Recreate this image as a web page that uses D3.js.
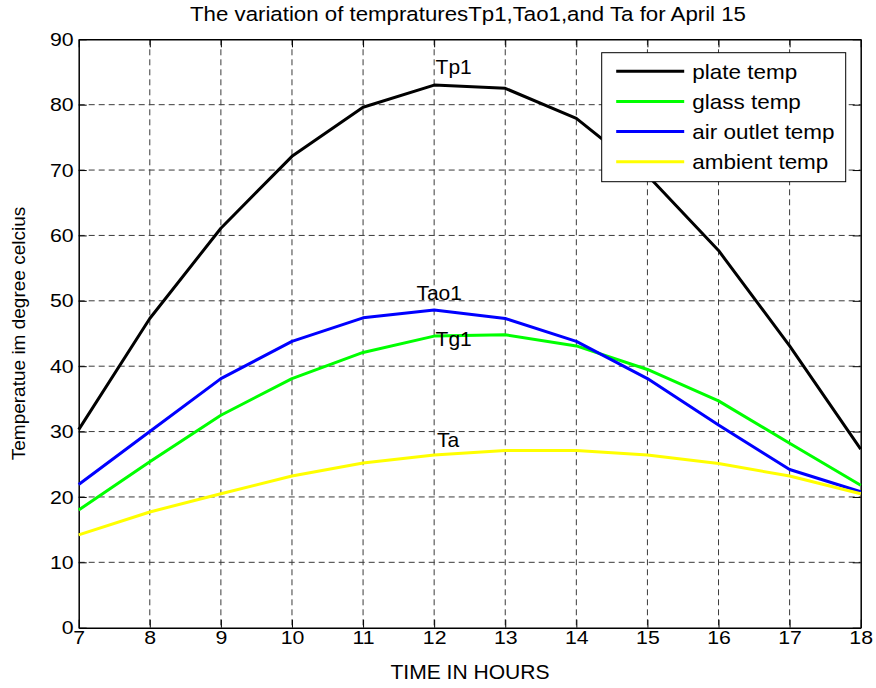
<!DOCTYPE html>
<html>
<head>
<meta charset="utf-8">
<script src="https://cdn.jsdelivr.net/npm/d3@7"></script>
<style>
  html, body { margin: 0; padding: 0; background: #fff; }
  svg { display: block; }
  text { font-family: "Liberation Sans", Arial, sans-serif; fill: #000; }
</style>
</head>
<body>
<svg id="chart" width="876" height="688"></svg>
<script>
// Hourly temperatures (deg C) on April 15
const hours = [7, 8, 9, 10, 11, 12, 13, 14, 15, 16, 17, 18];
const plateTemp   = [30.3, 47.3, 61.1, 72.1, 79.6, 83.0, 82.5, 77.9, 69.2, 57.7, 43.1, 27.3];
const glassTemp   = [18.0, 25.4, 32.5, 38.1, 42.1, 44.6, 44.8, 43.1, 39.5, 34.7, 28.2, 21.8];
const airOutTemp  = [21.9, 30.0, 38.1, 43.8, 47.4, 48.6, 47.3, 43.8, 38.1, 31.0, 24.2, 20.8];
const ambientTemp = [14.2, 17.7, 20.5, 23.2, 25.2, 26.4, 27.1, 27.1, 26.4, 25.1, 23.2, 20.5];

const seriesNames  = ["plate temp", "glass temp", "air outlet temp", "ambient temp"];
const seriesColors = ["#000000", "#00ff00", "#0000ff", "#ffff00"];
const seriesValues = [plateTemp, glassTemp, airOutTemp, ambientTemp];

const xTicks = [7, 8, 9, 10, 11, 12, 13, 14, 15, 16, 17, 18];
const yTicks = [0, 10, 20, 30, 40, 50, 60, 70, 80, 90];

// In-plot curve labels: text, hour, temperature (baseline position)
const noteText = ["Tp1", "Tao1", "Tg1", "Ta"];
const noteHour = [12.02, 11.75, 12.02, 12.04];
const noteTemp = [84.7, 50.2, 43.1, 27.7];

const titleText = "The variation of tempraturesTp1,Tao1,and Ta for April 15";
const xLabel = "TIME IN HOURS";
const yLabel = "Temperatue im degree celcius";

const svg = d3.select("#chart");
const plotLeft = 78.7, plotRight = 860.7, plotTop = 39.3, plotBottom = 627.7;

const x = d3.scaleLinear().domain([7, 18]).range([plotLeft, plotRight]);
const y = d3.scaleLinear().domain([0, 90]).range([plotBottom, plotTop]);

// widen glyphs horizontally (the figure's lettering runs a little wide)
function widen(sel, f) {
  sel.each(function () {
    const w = this.getComputedTextLength();
    d3.select(this).attr("textLength", w * f).attr("lengthAdjust", "spacingAndGlyphs");
  });
}

// dashed grid
const grid = svg.append("g").attr("stroke", "#3a3a3a").attr("stroke-width", 1)
  .attr("stroke-dasharray", "6,4").attr("fill", "none");
grid.selectAll("line.v").data(xTicks.slice(1, -1)).join("line").attr("class", "v")
  .attr("x1", d => x(d)).attr("x2", d => x(d)).attr("y1", plotTop).attr("y2", plotBottom);
grid.selectAll("line.h").data(yTicks.slice(1, -1)).join("line").attr("class", "h")
  .attr("y1", d => y(d)).attr("y2", d => y(d)).attr("x1", plotLeft).attr("x2", plotRight);

// axes with inward ticks on all four sides
function styleAxis(g) {
  g.attr("font-family", null).attr("font-size", null);
  g.select(".domain").attr("stroke", "#000").attr("stroke-width", 1.5);
  g.selectAll(".tick line").attr("stroke", "#000").attr("stroke-width", 1);
  g.selectAll(".tick text").style("font-size", "19px");
}
const xAxisG = svg.append("g").attr("transform", `translate(0,${plotBottom})`)
  .call(d3.axisBottom(x).tickValues(xTicks).tickFormat(d3.format("d")).tickSize(-8).tickPadding(3).tickSizeOuter(0))
  .call(styleAxis);
const yAxisG = svg.append("g").attr("transform", `translate(${plotLeft},0)`)
  .call(d3.axisLeft(y).tickValues(yTicks).tickFormat(d3.format("d")).tickSize(-8).tickPadding(5).tickSizeOuter(0))
  .call(styleAxis);
svg.append("g").attr("transform", `translate(0,${plotTop})`)
  .call(d3.axisTop(x).tickValues(xTicks).tickFormat("").tickSize(-8).tickSizeOuter(0))
  .call(styleAxis);
svg.append("g").attr("transform", `translate(${plotRight},0)`)
  .call(d3.axisRight(y).tickValues(yTicks).tickFormat("").tickSize(-8).tickSizeOuter(0))
  .call(styleAxis);
widen(xAxisG.selectAll(".tick text"), 1.12);
widen(yAxisG.selectAll(".tick text"), 1.12);

// series lines
const line = d3.line().x((d, i) => x(hours[i])).y(d => y(d));
svg.append("g").selectAll("path").data(seriesValues).join("path")
  .attr("d", d => line(d))
  .attr("fill", "none")
  .attr("stroke", (d, i) => seriesColors[i])
  .attr("stroke-width", 3)
  .attr("stroke-linejoin", "round");

// curve labels
svg.append("g").selectAll("text").data(noteText).join("text")
  .attr("x", (d, i) => x(noteHour[i]))
  .attr("y", (d, i) => y(noteTemp[i]))
  .style("font-size", "21px")
  .text(d => d);

// legend
const lg = svg.append("g").attr("transform", "translate(601.7,52.7)");
lg.append("rect").attr("width", 244).attr("height", 129)
  .attr("fill", "#fff").attr("stroke", "#000").attr("stroke-width", 1);
const rows = lg.selectAll("g").data(seriesNames).join("g")
  .attr("transform", (d, i) => `translate(0,${18.5 + i * 30.2})`);
rows.append("line").attr("x1", 14.5).attr("x2", 82.5)
  .attr("stroke", (d, i) => seriesColors[i]).attr("stroke-width", 3);
const legendText = rows.append("text").attr("x", 90.5).attr("y", 7.5)
  .style("font-size", "21px").text(d => d);
widen(legendText, 1.07);

// title and axis labels
svg.append("text").attr("x", 468).attr("y", 20.5).attr("text-anchor", "middle")
  .attr("textLength", 556).attr("lengthAdjust", "spacingAndGlyphs")
  .style("font-size", "20.5px").text(titleText);
const xl = svg.append("text").attr("x", 470).attr("y", 679).attr("text-anchor", "middle")
  .style("font-size", "19.5px").text(xLabel);
widen(xl, 1.08);
svg.append("text").attr("transform", `translate(25,${(plotTop + plotBottom) / 2}) rotate(-90)`)
  .attr("text-anchor", "middle").style("font-size", "19px").text(yLabel);
</script>
</body>
</html>
